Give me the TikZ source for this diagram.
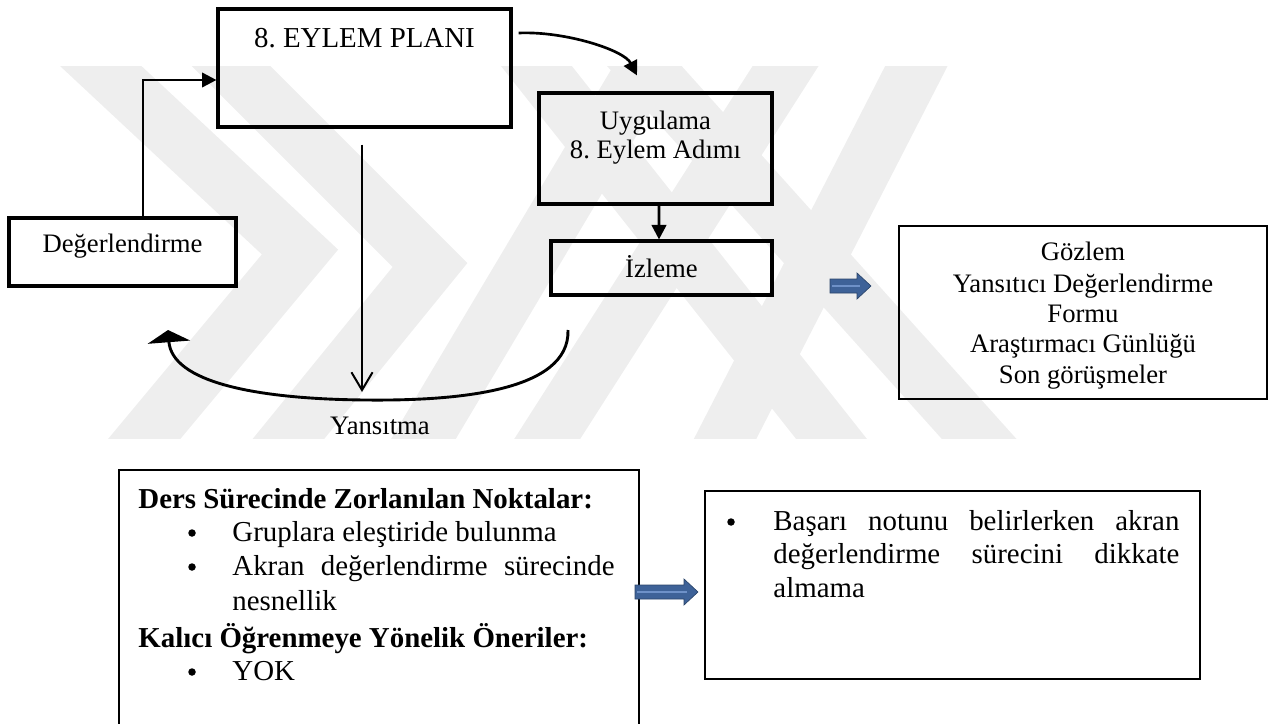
\documentclass[tikz,border=0pt]{standalone}
\usepackage{fontspec}
\setmainfont{Liberation Serif}
\usetikzlibrary{arrows.meta,calc}
\newcommand\pxu{0.45pt}
\definecolor{arrowblue}{RGB}{62,98,152}
\definecolor{arrowlight}{RGB}{110,145,200}
\definecolor{markgrey}{RGB}{238,238,238}
\frenchspacing

\begin{document}
\begin{tikzpicture}[x=0.45pt,y=-0.45pt,
  box/.style={draw, line width=1.4pt, inner sep=0pt},
  rbox/.style={draw, line width=0.9pt, inner sep=0pt},
  thinbox/.style={draw, line width=0.7pt, inner sep=0pt},
  txt/.style={inner sep=0pt, anchor=base, font=\fontsize{12}{14}\selectfont},
  bigtxt/.style={inner sep=0pt, anchor=base, font=\fontsize{13}{15}\selectfont},
  ltxt/.style={inner sep=0pt, anchor=base west, font=\fontsize{13}{15}\selectfont},
  btxt/.style={ltxt, font=\fontsize{13}{15}\selectfont\bfseries},
  bul/.style={circle, fill, inner sep=0pt, minimum size=7.5*\pxu},
  conn/.style={line width=1.2pt, -{Triangle[length=6.5pt,width=6.5pt]}},
  band/.style={line width=25pt, markgrey, line join=miter, miter limit=10},
  fat arrow/.pic={
    \fill[arrowblue, draw=arrowblue!70!black, line width=0.3pt]
      (0,-7) -- (#1-14,-7) -- (#1-14,-13) -- (#1,0) -- (#1-14,13) -- (#1-14,7) -- (0,7) -- cycle;
    \draw[arrowlight, line width=1.3pt] (2,0) -- (#1-11,0);
  },
]
\useasboundingbox (0,0) rectangle (1278,724);

% faint background emblem made of broad diagonal bands
\begin{scope}
  \clip (0,67) rectangle (1278,438);
  \draw[band] (30,0) -- (300,252) -- (110,480);
  \draw[band] (165,0) -- (430,265) -- (255,480);
  \draw[band] (399,480) -- (673,20);
  \draw[band] (521,480) -- (815,20);
  \draw[band] (704,480) -- (940,20);
  \draw[band] (500,20) -- (864,480);
  \draw[band] (603,20) -- (1016,480);
\end{scope}

% boxes
\node[box, minimum width=293*\pxu, minimum height=118*\pxu] (plan) at (364.5,68) {};
\node[box, minimum width=233*\pxu, minimum height=111*\pxu] (uyg) at (655.5,148.5) {};
\node[box, minimum width=221*\pxu, minimum height=54*\pxu] (izl) at (661.5,268) {};
\node[box, minimum width=227*\pxu, minimum height=68*\pxu] (deg) at (122.5,252) {};
\node[rbox, minimum width=368*\pxu, minimum height=173*\pxu] (arac) at (1083,312.5) {};
\node[inner sep=0pt, minimum width=519*\pxu, minimum height=254*\pxu, anchor=north west] (ders) at (119,470) {};
\draw[thinbox] (ders.south west) -- (ders.north west) -- (ders.north east) -- (ders.south east);
\node[thinbox, minimum width=495*\pxu, minimum height=188*\pxu] (oneri) at (952.5,585) {};

% texts
\node[bigtxt] (plantxt) at (364.5,48) {8. EYLEM PLANI};
\node[txt] (uyga) at (655.5,130) {Uygulama};
\node[txt] (uygb) at (655.5,159) {8. Eylem Adımı};
\node[txt] (izltxt) at (661.5,277) {İzleme};
\node[txt] (degtxt) at (122.5,253) {Değerlendirme};
\node[txt] (yans) at (380,434) {Yansıtma};
\node[txt] (ar1) at (1083,260) {Gözlem};
\node[txt] (ar2) at (1083,292) {Yansıtıcı Değerlendirme};
\node[txt] (ar3) at (1083,322) {Formu};
\node[txt] (ar4) at (1083,353) {Araştırmacı Günlüğü};
\node[txt] (ar5) at (1083,383) {Son görüşmeler};

\node[btxt] (h1) at (138,508) {Ders Sürecinde Zorlanılan Noktalar:};
\node[bul] (b1) at (192,533) {};
\node[ltxt] (i1) at (232,541) {Gruplara eleştiride bulunma};
\node[bul] (b2) at (192,567) {};
\node[ltxt] (i2) at (232,575) {\makebox[172pt][s]{Akran değerlendirme sürecinde}};
\node[ltxt] (i2b) at (232,610) {nesnellik};
\node[btxt] (h2) at (138,647) {Kalıcı Öğrenmeye Yönelik Öneriler:};
\node[bul] (b3) at (192,672) {};
\node[ltxt] (i3) at (232,680) {YOK};

\node[bul] (b4) at (731,522) {};
\node[ltxt] (o1) at (773,530) {\makebox[182.7pt][s]{Başarı notunu belirlerken akran}};
\node[ltxt] (o2) at (773,563) {\makebox[182.7pt][s]{değerlendirme sürecini dikkate}};
\node[ltxt] (o3) at (773,597) {almama};

% connectors
\draw[conn] ($(deg.north)+(20.5,0)$) |- ($(plan.west)+(0,12)$);
\draw[conn] ($(plan.east)+(6,-35)$) .. controls (565,31) and (624,50) .. ($(uyg.north)+(-18.5,-16)$);
\draw[conn] ($(uyg.south)+(3.5,0)$) -- ($(izl.north)+(-2.5,0)$);
\coordinate (refl) at (362,392);
\draw[line width=0.9pt, -{Straight Barb[length=8pt,width=9.5pt]}] ($(plan.south)+(-2.5,16)$) -- (refl);
\coordinate (loopa) at (568,330);
\coordinate (loopb) at (168,330);
\draw[line width=1.3pt, -{Triangle[length=5.5pt,width=19pt]}]
  (loopa) .. controls (570,392) and (455,401) .. (365,400)
  .. controls (255,399) and (172,382) .. (loopb);

% block arrows
\pic at (830,286) {fat arrow=41};
\pic at (635,592) {fat arrow=63};
\end{tikzpicture}
\end{document}
